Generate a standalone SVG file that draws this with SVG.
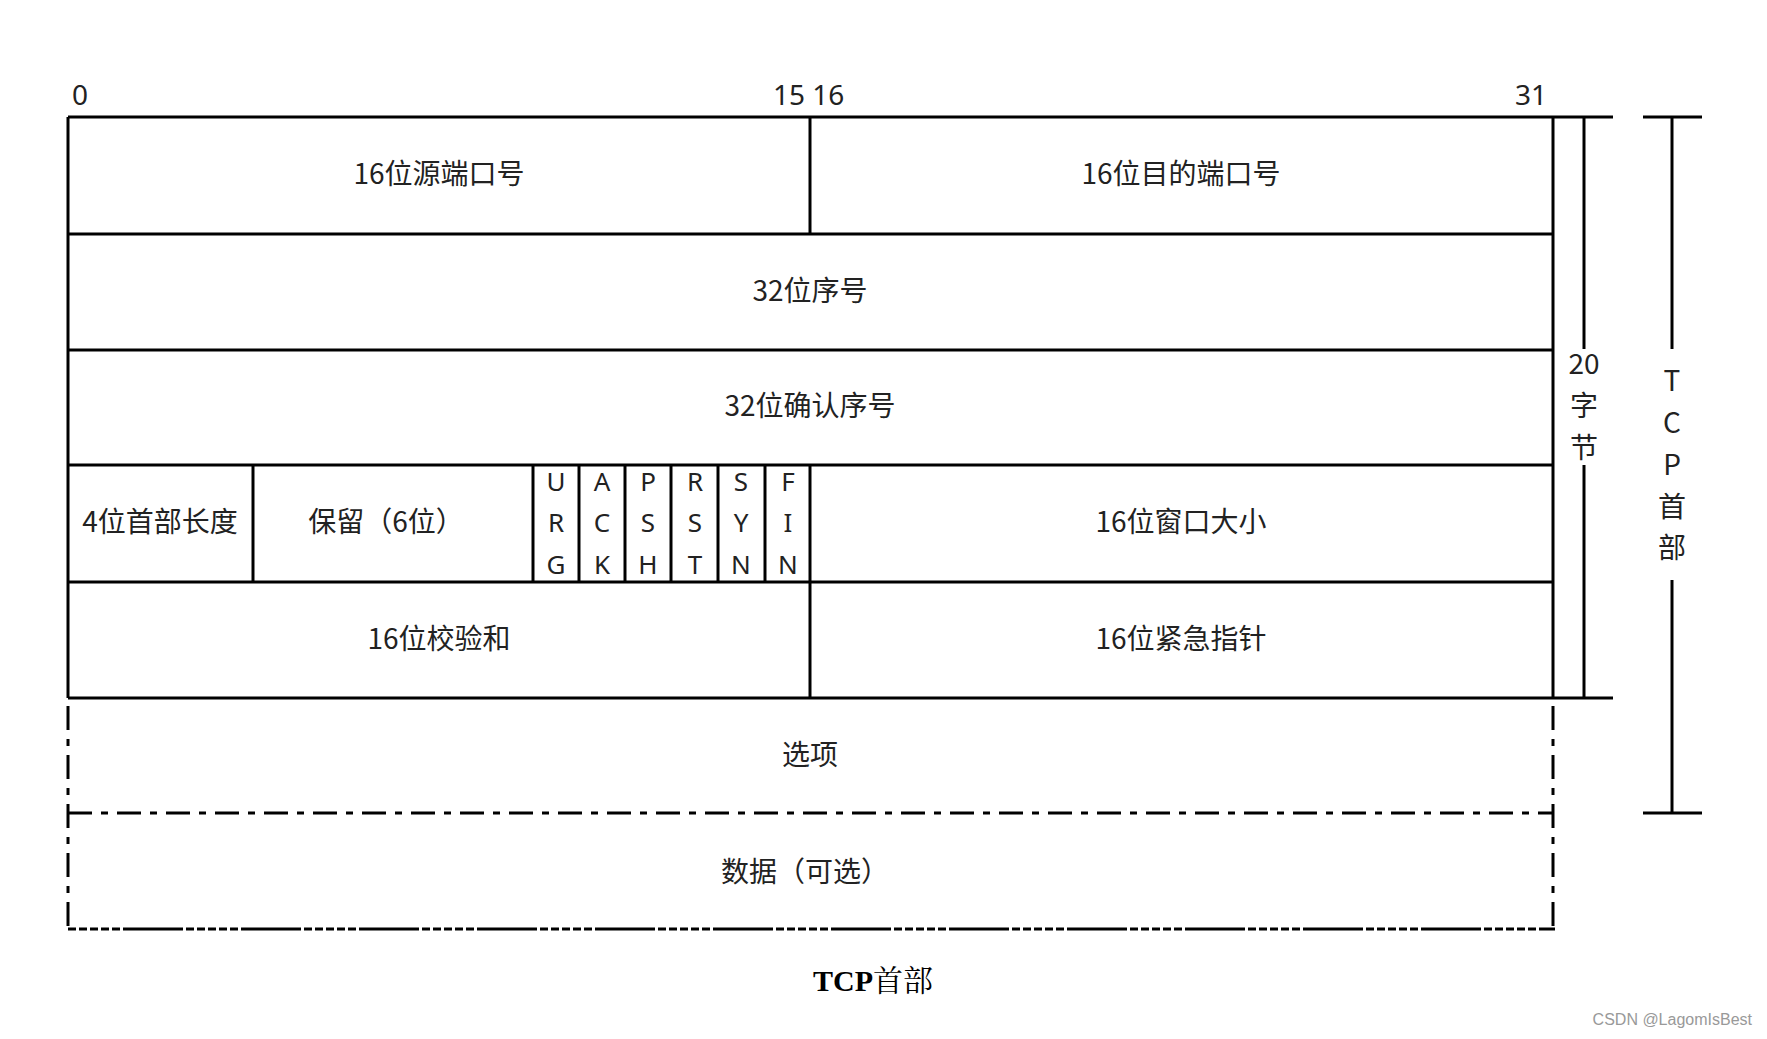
<svg xmlns="http://www.w3.org/2000/svg" width="1767" height="1039" viewBox="0 0 1767 1039">
<style>
.ln{stroke:#000;stroke-width:3;fill:none}
.dd{stroke:#000;stroke-width:3;fill:none;stroke-dasharray:24 9 7 9}
.db{stroke:#000;stroke-width:3;fill:none;stroke-dasharray:8 3 8 3 8 3 8 3 8 3 60 3}
.t{font-family:"Noto Sans CJK SC","Noto Sans",sans-serif;font-size:28px;fill:#222;text-anchor:middle;dominant-baseline:central}
.f{font-family:"Noto Sans","Noto Sans CJK SC",sans-serif;font-size:26px;fill:#222;text-anchor:middle}
.n{font-family:"Noto Sans","Noto Sans CJK SC",sans-serif;font-size:28px;fill:#222}
</style>
<rect width="1767" height="1039" fill="#fff"/>
<g id="connectors">
<line class="ln" x1="68" y1="117" x2="1613" y2="117"/>
<line class="ln" x1="68" y1="117" x2="68" y2="698"/>
<line class="ln" x1="1553" y1="117" x2="1553" y2="698"/>
<line class="ln" x1="68" y1="234" x2="1553" y2="234"/>
<line class="ln" x1="68" y1="350" x2="1553" y2="350"/>
<line class="ln" x1="68" y1="465" x2="1553" y2="465"/>
<line class="ln" x1="68" y1="582" x2="1553" y2="582"/>
<line class="ln" x1="68" y1="698" x2="1613" y2="698"/>
<line class="ln" x1="810" y1="117" x2="810" y2="234"/>
<line class="ln" x1="810" y1="465" x2="810" y2="698"/>
<line class="ln" x1="253" y1="465" x2="253" y2="582"/>
<line class="ln" x1="533" y1="465" x2="533" y2="582"/>
<line class="ln" x1="579" y1="465" x2="579" y2="582"/>
<line class="ln" x1="625" y1="465" x2="625" y2="582"/>
<line class="ln" x1="671" y1="465" x2="671" y2="582"/>
<line class="ln" x1="718" y1="465" x2="718" y2="582"/>
<line class="ln" x1="765" y1="465" x2="765" y2="582"/>
<line class="dd" x1="68" y1="706" x2="68" y2="929"/>
<line class="dd" x1="1553" y1="706" x2="1553" y2="929"/>
<line class="dd" x1="68" y1="813" x2="1553" y2="813"/>
<line class="db" x1="68" y1="929" x2="1555" y2="929"/>
<line class="ln" x1="1584" y1="117" x2="1584" y2="349"/>
<line class="ln" x1="1584" y1="465" x2="1584" y2="698"/>
<line class="ln" x1="1643" y1="117" x2="1702" y2="117"/>
<line class="ln" x1="1643" y1="813" x2="1702" y2="813"/>
<line class="ln" x1="1672" y1="117" x2="1672" y2="349"/>
<line class="ln" x1="1672" y1="580" x2="1672" y2="813"/>
</g>
<g id="ruler">
<text class="n" x="72" y="105">0</text>
<text class="n" x="773" y="105">15 16</text>
<text class="n" x="1515" y="105">31</text>
</g>
<g id="src-port"><text class="t" x="439" y="172">16位源端口号</text></g>
<g id="dst-port"><text class="t" x="1181" y="172">16位目的端口号</text></g>
<g id="seq"><text class="t" x="810" y="289">32位序号</text></g>
<g id="ack"><text class="t" x="810" y="404">32位确认序号</text></g>
<g id="hlen"><text class="t" x="160" y="520">4位首部长度</text></g>
<g id="reserved"><text class="t" x="386" y="520">保留（6位）</text></g>
<g id="flags">
<text class="f" x="556" y="491">U</text><text class="f" x="556" y="532">R</text><text class="f" x="556" y="574">G</text>
<text class="f" x="602" y="491">A</text><text class="f" x="602" y="532">C</text><text class="f" x="602" y="574">K</text>
<text class="f" x="648" y="491">P</text><text class="f" x="648" y="532">S</text><text class="f" x="648" y="574">H</text>
<text class="f" x="695" y="491">R</text><text class="f" x="695" y="532">S</text><text class="f" x="695" y="574">T</text>
<text class="f" x="741" y="491">S</text><text class="f" x="741" y="532">Y</text><text class="f" x="741" y="574">N</text>
<text class="f" x="788" y="491">F</text><text class="f" x="788" y="532">I</text><text class="f" x="788" y="574">N</text>
</g>
<g id="window"><text class="t" x="1181" y="520">16位窗口大小</text></g>
<g id="checksum"><text class="t" x="439" y="637">16位校验和</text></g>
<g id="urgent"><text class="t" x="1181" y="637">16位紧急指针</text></g>
<g id="options"><text class="t" x="810" y="753">选项</text></g>
<g id="data"><text class="t" x="805" y="870">数据（可选）</text></g>
<g id="bytes20">
<text class="t" x="1584" y="362">20</text>
<text class="t" x="1584" y="404">字</text>
<text class="t" x="1584" y="446">节</text>
</g>
<g id="tcp-header">
<text class="t" x="1672" y="379">T</text>
<text class="t" x="1672" y="421">C</text>
<text class="t" x="1672" y="463">P</text>
<text class="t" x="1672" y="505">首</text>
<text class="t" x="1672" y="546">部</text>
</g>
<text x="873" y="991" font-family="'Liberation Serif','Noto Serif CJK SC','Noto Sans CJK SC',serif" font-size="30" font-weight="bold" text-anchor="middle" fill="#000">TCP<tspan font-weight="normal">首部</tspan></text>
<text x="1752" y="1025" font-family="'Liberation Sans',sans-serif" font-size="16" fill="#999" text-anchor="end">CSDN @LagomIsBest</text>
</svg>
